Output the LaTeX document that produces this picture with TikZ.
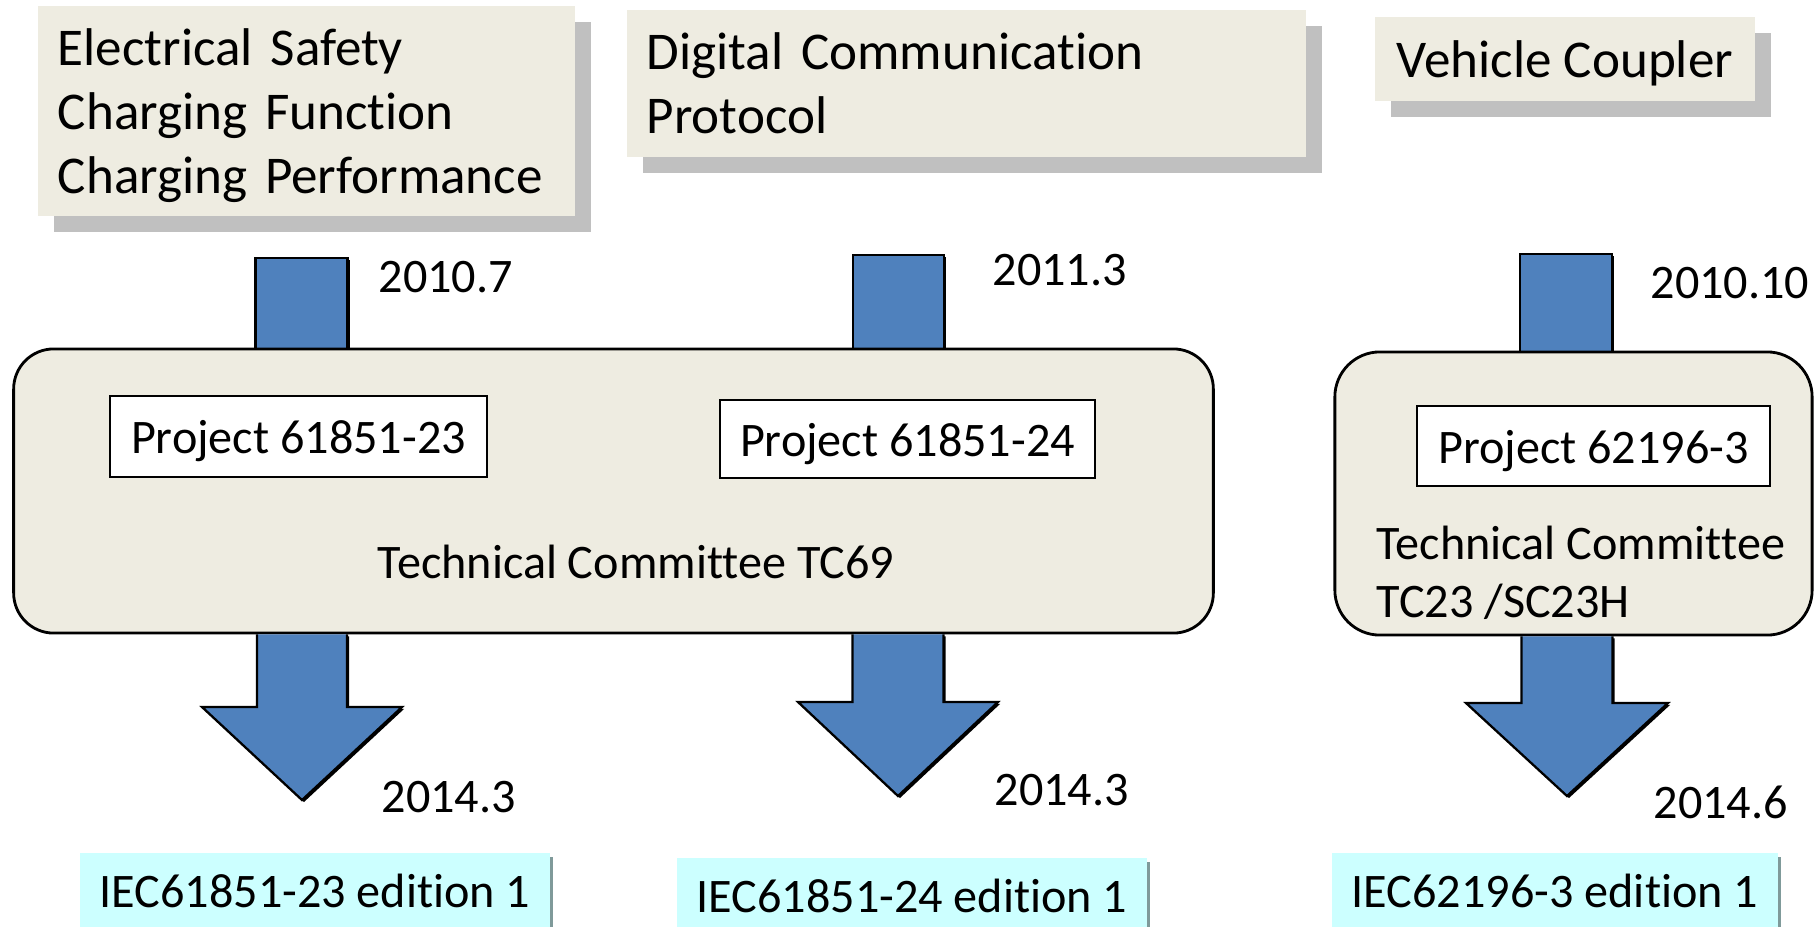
\documentclass[tikz,border=0pt]{standalone}
\usepackage{fontspec}
\setmainfont{Carlito}[Ligatures=NoCommon]
\usetikzlibrary{calc,shadows,backgrounds}

\definecolor{paper}{HTML}{EEECE1}
\definecolor{steel}{HTML}{4F81BD}
\definecolor{ice}{HTML}{CCFFFF}
\definecolor{hatch}{HTML}{C0C0C0}
\definecolor{rim}{HTML}{7F9A9A}

% block arrow leaving the bottom of a node: tip, node, half shaft, half head, head length
\newcommand{\fatarrow}[5]{%
  \draw[blk] let \p1=(#1), \p2=(#2.south) in
    (\x1-#3,\y2) -- (\x1-#3,\y1+#5) -- (\x1-#4,\y1+#5) -- (\p1)
    -- (\x1+#4,\y1+#5) -- (\x1+#3,\y1+#5) -- (\x1+#3,\y2);}
% stub running into the top of a node: top centre, node, half width
\newcommand{\fatstub}[3]{%
  \draw[blk] let \p1=(#1), \p2=(#2.north) in
    (\x1-#3,\y2) -- (\x1-#3,\y1) -- (\x1+#3,\y1) -- (\x1+#3,\y2);}
% last line without its descenders
\newcommand{\nodepth}[1]{\raisebox{0pt}[\height][0pt]{#1}}

\begin{document}
\begin{tikzpicture}[x=0.01cm,y=-0.01cm]
  \tikzset{
    big/.style={font=\fontsize{15.1}{18.2}\selectfont},
    txt/.style={font=\fontsize{13.7}{16.4}\selectfont},
    topic/.style={big, fill=paper, align=left, inner xsep=0.2cm, inner ysep=0pt,
      drop shadow={shadow xshift=0.16cm, shadow yshift=-0.16cm, fill=hatch, opacity=1}},
    tcbox/.style={draw, line width=0.8pt, fill=paper, inner sep=0pt},
    projbox/.style={txt, draw, line width=0.6pt, fill=white, inner sep=0pt,
      text height=9.9pt, text depth=0pt},
    edition/.style={txt, fill=ice, inner sep=0pt, minimum height=0.8cm, anchor=north,
      text height=8.6pt, text depth=0pt,
      drop shadow={shadow xshift=0.03cm, shadow yshift=-0.04cm, fill=rim, opacity=1}},
    date/.style={txt, anchor=base west, inner sep=0pt},
    blk/.style={draw, line width=0.65pt, fill=steel,
      drop shadow={shadow xshift=0.02cm, shadow yshift=-0.02cm, fill=black, opacity=1}},
  }
  \useasboundingbox (0,0) rectangle (1820,927);
  \clip (0,0) rectangle (1820,927);

  % subject areas
  \node[topic, text width=4.97cm, minimum height=2.10cm] (safety) at (306.5,111)
    {Electrical Safety\\Charging Function\\\nodepth{Charging Performance}};
  \node[topic, text width=6.39cm, minimum height=1.47cm] (comm) at (966.5,83.5)
    {Digital Communication\\Protocol};
  \node[topic, minimum width=3.80cm, minimum height=0.84cm] (coupler) at (1565,59)
    {\nodepth{Vehicle Coupler}};

  % committees
  \node[tcbox, rounded corners=0.4cm, minimum width=11.99cm, minimum height=2.84cm] (tc69) at (613.5,491) {};
  \node[txt, anchor=base, inner sep=0pt] (tc69name) at (636,578) {Technical Committee TC69};
  \node[tcbox, rounded corners=0.45cm, minimum width=4.77cm, minimum height=2.83cm] (tc23) at (1573.5,493.5) {};
  \node[txt, align=left, anchor=west, inner sep=0pt] (tc23name) at (1376,573) {Technical Committee\\TC23 /SC23H};

  \node[projbox, minimum width=3.77cm, minimum height=0.81cm] (p23) at (298.5,436.5) {Project 61851-23};
  \node[projbox, minimum width=3.75cm, minimum height=0.78cm] (p24) at (907.5,439) {Project 61851-24};
  \node[projbox, minimum width=3.53cm, minimum height=0.80cm] (p3) at (1593.5,446) {Project 62196-3};

  % arrows in
  \coordinate (in23) at (301.5,258);
  \coordinate (in24) at (898.5,255);
  \coordinate (in3) at (1566,254);
  \begin{pgfonlayer}{background}
    \fatstub{in23}{tc69}{0.46cm}
    \fatstub{in24}{tc69}{0.455cm}
    \fatstub{in3}{tc23}{0.46cm}
  \end{pgfonlayer}

  % arrows out
  \coordinate (out23) at (302,800);
  \coordinate (out24) at (898,796);
  \coordinate (out3) at (1567,796);
  \fatarrow{out23}{tc69}{0.45cm}{1.0cm}{0.93cm}
  \fatarrow{out24}{tc69}{0.455cm}{1.0cm}{0.94cm}
  \fatarrow{out3}{tc23}{0.455cm}{1.01cm}{0.93cm}

  % published standards
  \node[edition, minimum width=4.70cm] (iec23) at (315,852) {IEC61851-23 edition 1};
  \node[edition, minimum width=4.70cm] (iec24) at (912,857) {IEC61851-24 edition 1};
  \node[edition, minimum width=4.46cm] (iec3) at (1555,852) {IEC62196-3 edition 1};

  % dates
  \node[date] (start23) at (378,292) {2010.7};
  \node[date] (start24) at (992,285) {2011.3};
  \node[date] (start3) at (1650,298) {2010.10};
  \node[date] (end23) at (381,812) {2014.3};
  \node[date] (end24) at (994,805) {2014.3};
  \node[date] (end3) at (1653,818) {2014.6};
\end{tikzpicture}
\end{document}
